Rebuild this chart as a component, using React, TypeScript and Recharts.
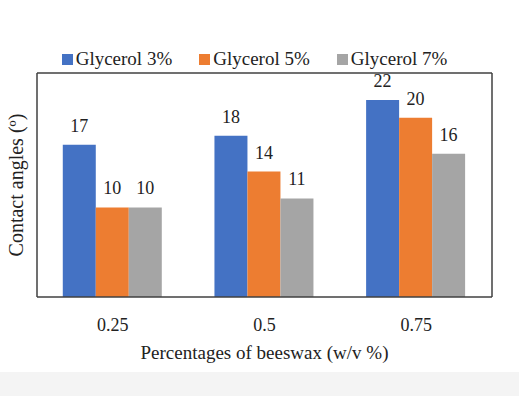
import { BarChart, Bar, XAxis, YAxis, Legend, LabelList } from 'recharts';

const beeswax = ['0.25', '0.5', '0.75'];
const glycerol3 = [17, 18, 22];
const glycerol5 = [10, 14, 20];
const glycerol7 = [10, 11, 16];

const seriesNames = ['Glycerol 3%', 'Glycerol 5%', 'Glycerol 7%'];
const seriesColors = ['#4472c4', '#ed7d31', '#a5a5a5'];

const data = beeswax.map((b, i) => ({
  beeswax: b,
  g3: glycerol3[i],
  g5: glycerol5[i],
  g7: glycerol7[i],
}));

const FONT = '"Liberation Serif", "Times New Roman", serif';
const BORDER = { stroke: '#404040', strokeWidth: 1.5 };

function LegendContent({ payload }: any) {
  return (
    <div style={{ display: 'flex', justifyContent: 'center', gap: 27, fontFamily: FONT, fontSize: 19, color: '#222' }}>
      {(payload || []).map((p: any) => (
        <span key={p.value} style={{ display: 'flex', alignItems: 'center' }}>
          <span style={{ width: 11, height: 11, background: p.color, marginRight: 3, display: 'inline-block' }} />
          {p.value}
        </span>
      ))}
    </div>
  );
}

export default function App() {
  return (
    <div style={{ position: 'absolute', left: 0, top: 0, width: 519, height: 396, background: '#fff' }}>
      <div style={{ position: 'absolute', left: 0, top: 372, width: 519, height: 24, background: '#f4f4f4' }} />
      <BarChart
        width={519}
        height={396}
        data={data}
        margin={{ top: 72, right: 26, bottom: 69, left: 36 }}
        barCategoryGap="17%"
        barGap={0}
      >
        <XAxis
          dataKey="beeswax"
          axisLine={BORDER}
          tickLine={false}
          height={30}
          tick={{ fill: '#222', fontFamily: FONT, fontSize: 18, dy: 13 }}
        />
        <XAxis xAxisId="top" dataKey="beeswax" orientation="top" height={1} tick={false} tickLine={false} axisLine={BORDER} />
        <YAxis domain={[0, 25]} width={1} tick={false} tickLine={false} axisLine={BORDER} />
        <YAxis yAxisId="right" orientation="right" domain={[0, 25]} width={1} tick={false} tickLine={false} axisLine={BORDER} />
        <Legend
          verticalAlign="middle"
          align="center"
          layout="horizontal"
          wrapperStyle={{ top: 48, left: -5, width: 519 }}
          content={<LegendContent />}
        />
        {(['g3', 'g5', 'g7'] as const).map((k, i) => (
          <Bar key={k} dataKey={k} name={seriesNames[i]} fill={seriesColors[i]} isAnimationActive={false}>
            <LabelList dataKey={k} position="top" offset={13} fill="#222" fontFamily={FONT} fontSize={18} />
          </Bar>
        ))}
      </BarChart>
      <div style={{ position: 'absolute', left: 0, top: 342, width: 519, textAlign: 'center', fontFamily: FONT, fontSize: 19, color: '#222', paddingLeft: 10, boxSizing: 'border-box' }}>
        Percentages of beeswax (w/v %)
      </div>
      <div style={{ position: 'absolute', left: 16, top: 185, transform: 'translate(-50%, -50%) rotate(-90deg)', whiteSpace: 'nowrap', fontFamily: FONT, fontSize: 20, color: '#222' }}>
        Contact angles (º)
      </div>
    </div>
  );
}
